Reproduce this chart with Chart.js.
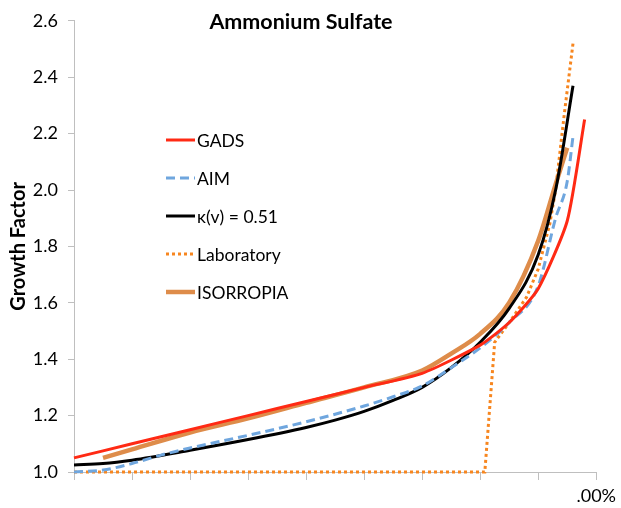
<!DOCTYPE html>
<html>
<head>
<meta charset="utf-8">
<script src="https://cdn.jsdelivr.net/npm/chart.js@4"></script>
<style>
  html, body { margin: 0; padding: 0; background: #fff; }
  #wrap { width: 621px; height: 508px; }
</style>
</head>
<body>
<div id="wrap"><canvas id="gfChart" width="621" height="508"></canvas></div>
<script>
// relative humidity (%) and growth factor
const gadsRH = [10, 20, 30, 40, 50, 60, 70, 80, 85, 90, 95, 98];
const gadsGF = [1.05, 1.10, 1.15, 1.20, 1.25, 1.30, 1.35, 1.45, 1.53, 1.65, 1.89, 2.25];

const aimRH = [10, 15, 20, 25, 30, 40, 50, 55, 60, 65, 70, 75, 80, 85, 90, 93, 95, 96];
const aimGF = [1.00, 1.007, 1.03, 1.06, 1.085, 1.13, 1.178, 1.205, 1.234, 1.267, 1.305, 1.37, 1.44, 1.53, 1.66, 1.90, 2.03, 2.19];

const kappaRH = [10, 15, 20, 30, 40, 50, 55, 60, 65, 70, 75, 80, 85, 90, 93, 96];
const kappaGF = [1.025, 1.03, 1.042, 1.077, 1.115, 1.158, 1.184, 1.215, 1.254, 1.30, 1.37, 1.46, 1.58, 1.77, 2.00, 2.37];

const labRH = [10, 20, 30, 40, 50, 60, 70, 80, 80.8, 82.5, 85, 88, 90, 92, 93, 94.5, 96];
const labGF = [1.0, 1.0, 1.0, 1.0, 1.0, 1.0, 1.0, 1.0, 1.0, 1.46, 1.53, 1.62, 1.72, 1.88, 2.0, 2.27, 2.52];

const isoRH = [15, 20, 30, 40, 50, 60, 70, 75, 80, 85, 90, 93, 95];
const isoGF = [1.05, 1.08, 1.14, 1.19, 1.245, 1.30, 1.36, 1.42, 1.49, 1.60, 1.82, 2.02, 2.15];

const seriesNames = ["GADS", "AIM", "\u03ba(v) = 0.51", "Laboratory", "ISORROPIA"];
const xTickLabels = ["", "", "", "", "", "", "", "", "", ".00%"];
const chartTitle = "Ammonium Sulfate";
const yTitle = "Growth Factor";

function pts(xs, ys) {
  return xs.map((x, i) => ({ x: x, y: ys[i] }));
}

const fontFam = "Lato, 'Open Sans', sans-serif";

// title and legend sit inside the plot area in the original
const insideDecor = {
  id: "insideDecor",
  afterDatasetsDraw(chart) {
    const ctx = chart.ctx;
    ctx.save();
    ctx.fillStyle = "#000";
    ctx.font = "bold 21.5px " + fontFam;
    ctx.textAlign = "center";
    ctx.textBaseline = "middle";
    ctx.fillText(chartTitle, 301, 22);

    ctx.font = "17.5px " + fontFam;
    ctx.textAlign = "left";
    chart.data.datasets.forEach((ds, i) => {
      const y = 140 + i * 38;
      ctx.save();
      ctx.strokeStyle = ds.borderColor;
      ctx.lineWidth = ds.borderWidth;
      ctx.setLineDash(ds.borderDash || []);
      ctx.beginPath();
      ctx.moveTo(166, y);
      ctx.lineTo(195, y);
      ctx.stroke();
      ctx.restore();
      ctx.fillStyle = "#000";
      ctx.fillText(ds.label, 197, y + 1);
    });
    ctx.restore();
  }
};

const ctx = document.getElementById("gfChart").getContext("2d");
new Chart(ctx, {
  type: "line",
  data: {
    datasets: [
      {
        label: seriesNames[0],
        data: pts(gadsRH, gadsGF),
        borderColor: "#ff2a14",
        borderWidth: 3,
        tension: 0.2,
        clip: 5
      },
      {
        label: seriesNames[1],
        data: pts(aimRH, aimGF),
        borderColor: "#6fa6de",
        borderWidth: 3,
        borderDash: [9, 5],
        cubicInterpolationMode: "monotone",
        clip: 5
      },
      {
        label: seriesNames[2],
        data: pts(kappaRH, kappaGF),
        borderColor: "#000000",
        borderWidth: 3,
        cubicInterpolationMode: "monotone",
        clip: 5
      },
      {
        label: seriesNames[3],
        data: pts(labRH, labGF),
        borderColor: "#f7861f",
        borderWidth: 3,
        borderDash: [3, 3],
        tension: 0,
        clip: 5
      },
      {
        label: seriesNames[4],
        data: pts(isoRH, isoGF),
        borderColor: "#de8c4a",
        borderWidth: 4.5,
        cubicInterpolationMode: "monotone",
        clip: 5
      }
    ]
  },
  options: {
    responsive: false,
    animation: false,
    layout: { padding: { left: 0, top: 15, right: 22, bottom: 0 } },
    elements: { point: { radius: 0 } },
    plugins: {
      legend: { display: false },
      tooltip: { enabled: false }
    },
    scales: {
      x: {
        type: "linear",
        min: 10,
        max: 100,
        ticks: {
          stepSize: 10,
          padding: 5,
          color: "#000",
          font: { family: fontFam, size: 18 },
          maxRotation: 0,
          autoSkip: false,
          callback: (v, i) => xTickLabels[i]
        },
        grid: { drawOnChartArea: false, tickLength: 8, color: "#bfbfbf" },
        border: { color: "#bfbfbf" },
        afterFit: (s) => { s.height = 36; }
      },
      y: {
        min: 1.0,
        max: 2.6,
        ticks: {
          stepSize: 0.2,
          padding: 10,
          color: "#000",
          font: { family: fontFam, size: 18 },
          callback: (v) => v.toFixed(1)
        },
        title: {
          display: true,
          text: yTitle,
          color: "#000",
          font: { family: fontFam, size: 20, weight: "bold" },
          padding: { top: 7, bottom: 0 }
        },
        grid: { drawOnChartArea: false, tickLength: 6, color: "#bfbfbf" },
        border: { color: "#bfbfbf" },
        afterFit: (s) => { s.width = 74; }
      }
    }
  },
  plugins: [insideDecor]
});
</script>
</body>
</html>
